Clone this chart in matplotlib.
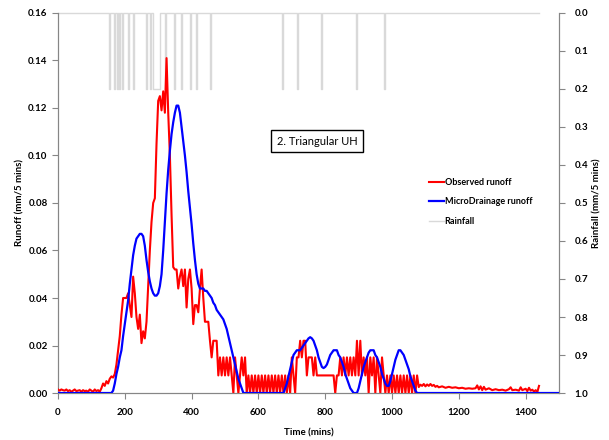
import matplotlib
matplotlib.use("Agg")
import matplotlib.pyplot as plt
from matplotlib.ticker import FormatStrFormatter

plt.rcParams['font.family'] = ['Lato', 'DejaVu Sans']

# --------------------
# Données
# --------------------
# Ruissellement observé : pas de 5 mins de 0 à 1095, puis points relevés
obs_t = list(range(0, 1100, 5)) + [
    1100, 1105, 1110, 1115, 1120, 1125, 1130, 1135, 1140,
    1150, 1160, 1170, 1180, 1190, 1200, 1210, 1220, 1230, 1240, 1250,
    1255, 1260, 1265, 1270, 1275, 1280,
    1290, 1300, 1310, 1320, 1330, 1340, 1350,
    1355, 1360, 1370, 1380, 1385, 1390,
    1400, 1405, 1410, 1415, 1420, 1425, 1430, 1435, 1440]
obs_q = [
    0.0015, 0.001, 0.0015, 0.0012, 0.001, 0.0015, 0.0008, 0.0012, 0.0005, 0.001,     # 0
    0.0015, 0.0008, 0.001, 0.0012, 0.0005, 0.0012, 0.0008, 0.001, 0.0005, 0.0015,    # 50
    0.001, 0.0005, 0.0015, 0.0008, 0.0012, 0.0005, 0.002, 0.004, 0.003, 0.005,       # 100
    0.004, 0.006, 0.007, 0.0065, 0.008, 0.012, 0.018, 0.024, 0.033, 0.040,           # 150
    0.040, 0.040, 0.042, 0.037, 0.032, 0.049, 0.042, 0.032, 0.027, 0.033,            # 200
    0.021, 0.026, 0.023, 0.030, 0.045, 0.060, 0.072, 0.080, 0.082, 0.105,            # 250
    0.123, 0.125, 0.119, 0.127, 0.118, 0.141, 0.118, 0.100, 0.075, 0.053,            # 300
    0.052, 0.052, 0.044, 0.049, 0.052, 0.045, 0.052, 0.036, 0.048, 0.052,            # 350
    0.044, 0.029, 0.037, 0.037, 0.034, 0.044, 0.052, 0.040, 0.030, 0.030,            # 400
    0.030, 0.022, 0.015, 0.022, 0.022, 0.022, 0.0074, 0.015, 0.0074, 0.015,          # 450
    0.0074, 0.015, 0.0074, 0.015, 0.0074, 0.0, 0.015, 0.0074, 0.0, 0.0074,           # 500
    0.015, 0.0074, 0.015, 0.0, 0.0074, 0.0, 0.0074, 0.0, 0.0074, 0.0,                # 550
    0.0074, 0.0, 0.0074, 0.0, 0.0074, 0.0, 0.0074, 0.0, 0.0074, 0.0,                 # 600
    0.0074, 0.0, 0.0074, 0.0, 0.0074, 0.0, 0.0074, 0.0, 0.0074, 0.0,                 # 650
    0.015, 0.0074, 0.0, 0.015, 0.015, 0.022, 0.015, 0.022, 0.022, 0.0074,            # 700
    0.015, 0.015, 0.015, 0.0074, 0.015, 0.0074, 0.0074, 0.0074, 0.0074, 0.0074,      # 750
    0.0074, 0.0074, 0.0074, 0.0074, 0.0074, 0.0074, 0.0, 0.0074, 0.0074, 0.015,      # 800
    0.0074, 0.015, 0.0074, 0.015, 0.0074, 0.015, 0.0074, 0.015, 0.0074, 0.022,       # 850
    0.0074, 0.022, 0.0074, 0.015, 0.0074, 0.015, 0.0, 0.015, 0.0074, 0.015,          # 900
    0.0, 0.015, 0.0074, 0.0, 0.015, 0.0074, 0.0, 0.0074, 0.0, 0.0074,                # 950
    0.0, 0.0074, 0.0, 0.0074, 0.0, 0.0074, 0.0, 0.0074, 0.0, 0.0074,                 # 1000
    0.0, 0.0074, 0.0, 0.0074, 0.0, 0.0074, 0.0025, 0.0035, 0.003, 0.0038,            # 1050
    0.0028, 0.0036, 0.003, 0.0038, 0.003, 0.0034, 0.0026, 0.003, 0.0024,
    0.0028, 0.0022, 0.0026, 0.0022, 0.0024, 0.002, 0.0022, 0.0018, 0.002, 0.0018, 0.002,
    0.0032, 0.0015, 0.0028, 0.0012, 0.0026, 0.0014,
    0.002, 0.0012, 0.0016, 0.0012, 0.0014, 0.001, 0.0016,
    0.0024, 0.0012, 0.0014, 0.001, 0.0024, 0.0012,
    0.0018, 0.0008, 0.0022, 0.001, 0.0014, 0.0006, 0.0012, 0.0004, 0.003]

md_t = [0, 160, 165, 170, 175, 180, 185, 190, 195, 200, 205, 210, 215, 220, 225, 230,
        235, 240, 245, 250, 255, 260, 265, 270, 275, 280, 285, 290, 295, 300, 305, 310,
        315, 320, 325, 330, 335, 340, 345, 350, 355, 360, 365, 370, 375, 380, 385, 390,
        395, 400, 405, 410, 415, 420, 425, 430, 435, 440, 445, 450, 455, 460, 465, 470,
        475, 480, 485, 490, 495, 500, 505, 510, 515, 520, 525, 530, 535, 540, 545, 550,
        555, 675, 680, 685, 690, 695, 700, 705, 710, 715, 720, 725, 730, 735, 740, 745,
        750, 755, 760, 765, 770, 775, 780, 785, 790, 795, 800, 805, 810, 815, 820, 825,
        830, 835, 840, 845, 850, 855, 860, 865, 870, 875, 880, 885, 895, 900, 905, 910,
        915, 920, 925, 930, 935, 940, 945, 950, 955, 960, 965, 970, 975, 980, 985, 990,
        995, 1000, 1005, 1010, 1015, 1020, 1025, 1030, 1035, 1040, 1045, 1050, 1055,
        1060, 1065, 1070, 1075, 1500]
md_q = [0.0, 0.0, 0.001, 0.004, 0.008, 0.011, 0.015, 0.018, 0.024, 0.029, 0.034, 0.039,
        0.046, 0.052, 0.058, 0.062, 0.065, 0.066, 0.067, 0.067, 0.066, 0.062, 0.056,
        0.051, 0.047, 0.044, 0.042, 0.041, 0.041, 0.042, 0.045, 0.050, 0.060, 0.072,
        0.084, 0.094, 0.102, 0.109, 0.114, 0.118, 0.121, 0.121, 0.118, 0.112, 0.106,
        0.100, 0.093, 0.085, 0.078, 0.071, 0.063, 0.056, 0.050, 0.046, 0.044, 0.044,
        0.044, 0.043, 0.043, 0.042, 0.041, 0.040, 0.038, 0.037, 0.035, 0.034, 0.033,
        0.032, 0.031, 0.029, 0.027, 0.024, 0.021, 0.018, 0.015, 0.012, 0.009, 0.006,
        0.004, 0.002, 0.0, 0.0, 0.002, 0.004, 0.007, 0.010, 0.013, 0.016, 0.017, 0.018,
        0.018, 0.018, 0.019, 0.020, 0.021, 0.022, 0.023, 0.0235, 0.023, 0.022, 0.020,
        0.018, 0.015, 0.013, 0.011, 0.0105, 0.011, 0.012, 0.014, 0.016, 0.017, 0.018,
        0.018, 0.018, 0.016, 0.015, 0.013, 0.011, 0.008, 0.006, 0.004, 0.002, 0.001,
        0.0, 0.0, 0.002, 0.005, 0.008, 0.011, 0.013, 0.015, 0.017, 0.018, 0.018, 0.018,
        0.016, 0.015, 0.013, 0.011, 0.008, 0.006, 0.004, 0.003, 0.003, 0.005, 0.008,
        0.011, 0.014, 0.016, 0.018, 0.018, 0.017, 0.016, 0.014, 0.012, 0.010, 0.007,
        0.005, 0.003, 0.001, 0.0, 0.0]

# pluie : début, fin (mins) et hauteur (mm/5 mins)
rain_start = [152, 167, 176, 184, 192, 209, 224, 264, 274, 284, 321, 346, 369, 394,
              414, 454, 670, 715, 786, 891, 975]
rain_end = [155, 170, 179, 187, 195, 212, 227, 267, 277, 306, 324, 349, 372, 397,
            417, 457, 673, 718, 789, 894, 978]
rain_mm = [0.2] * len(rain_start)
rain_last_t = 1440

# Série pluie en escalier construite à partir des évènements
rain_t, rain_v = [0], [0.0]
for s, e, h in zip(rain_start, rain_end, rain_mm):
    rain_t += [s, s, e, e]
    rain_v += [0.0, h, h, 0.0]
rain_t.append(rain_last_t)
rain_v.append(0.0)

# --------------------
# Graphique
# --------------------
fig = plt.figure(figsize=(6.09, 4.40), dpi=100)
ax = fig.add_axes([0.0952, 0.1068, 0.8228, 0.8637])
ax2 = ax.twinx()

ax.plot(obs_t, obs_q, color="#ff0000", lw=1.5, label="Observed runoff", zorder=3)
ax.plot(md_t, md_q, color="#0000ff", lw=1.6, label="MicroDrainage runoff", zorder=4)
ax2.plot(rain_t, rain_v, color="#d9d9d9", lw=1.0, label="Rainfall", clip_on=False)

ax.set_zorder(ax2.get_zorder() + 1)
ax.patch.set_visible(False)

ax.set_xlim(0, 1500)
ax.set_ylim(0, 0.16)
ax.set_yticks([0, 0.02, 0.04, 0.06, 0.08, 0.10, 0.12, 0.14, 0.16])
ax.yaxis.set_major_formatter(FormatStrFormatter("%.2f"))
ax.set_xticks(range(0, 1401, 200))
ax2.set_ylim(1.0, 0.0)
ax2.set_yticks([i / 10 for i in range(11)])
ax2.yaxis.set_major_formatter(FormatStrFormatter("%.1f"))

gray = "#868686"
for a in (ax, ax2):
    for side in ("left", "right", "bottom"):
        a.spines[side].set_color(gray)
    a.spines["top"].set_visible(False)
    a.tick_params(colors=gray, labelcolor="black", labelsize=7, length=4, width=0.8)
ax.tick_params(axis="x", pad=7)
ax2.tick_params(axis="y", pad=7)
for lab in ax.get_xticklabels() + ax.get_yticklabels() + ax2.get_yticklabels():
    lab.set_fontweight("bold")

ax.set_xlabel("Time (mins)", fontsize=7, fontweight="bold", labelpad=8)
ax.set_ylabel("Runoff (mm/5 mins)", fontsize=7, fontweight="bold", labelpad=3)
ax2.set_ylabel("Rainfall (mm/5 mins)", fontsize=7, fontweight="bold", labelpad=3)

ax.text(0.517, 0.663, "2. Triangular UH", transform=ax.transAxes, ha="center", va="center",
        fontsize=8, bbox=dict(boxstyle="square,pad=0.5", fc="white", ec="black", lw=1))

h1, l1 = ax.get_legend_handles_labels()
h2, l2 = ax2.get_legend_handles_labels()
ax.legend(h1 + h2, l1 + l2, loc="upper left", bbox_to_anchor=(0.725, 0.587),
          frameon=False, handlelength=1.6, handletextpad=0.1,
          labelspacing=1.15, prop={"weight": "bold", "size": 6.5})

fig.savefig("out.png", dpi=100)
